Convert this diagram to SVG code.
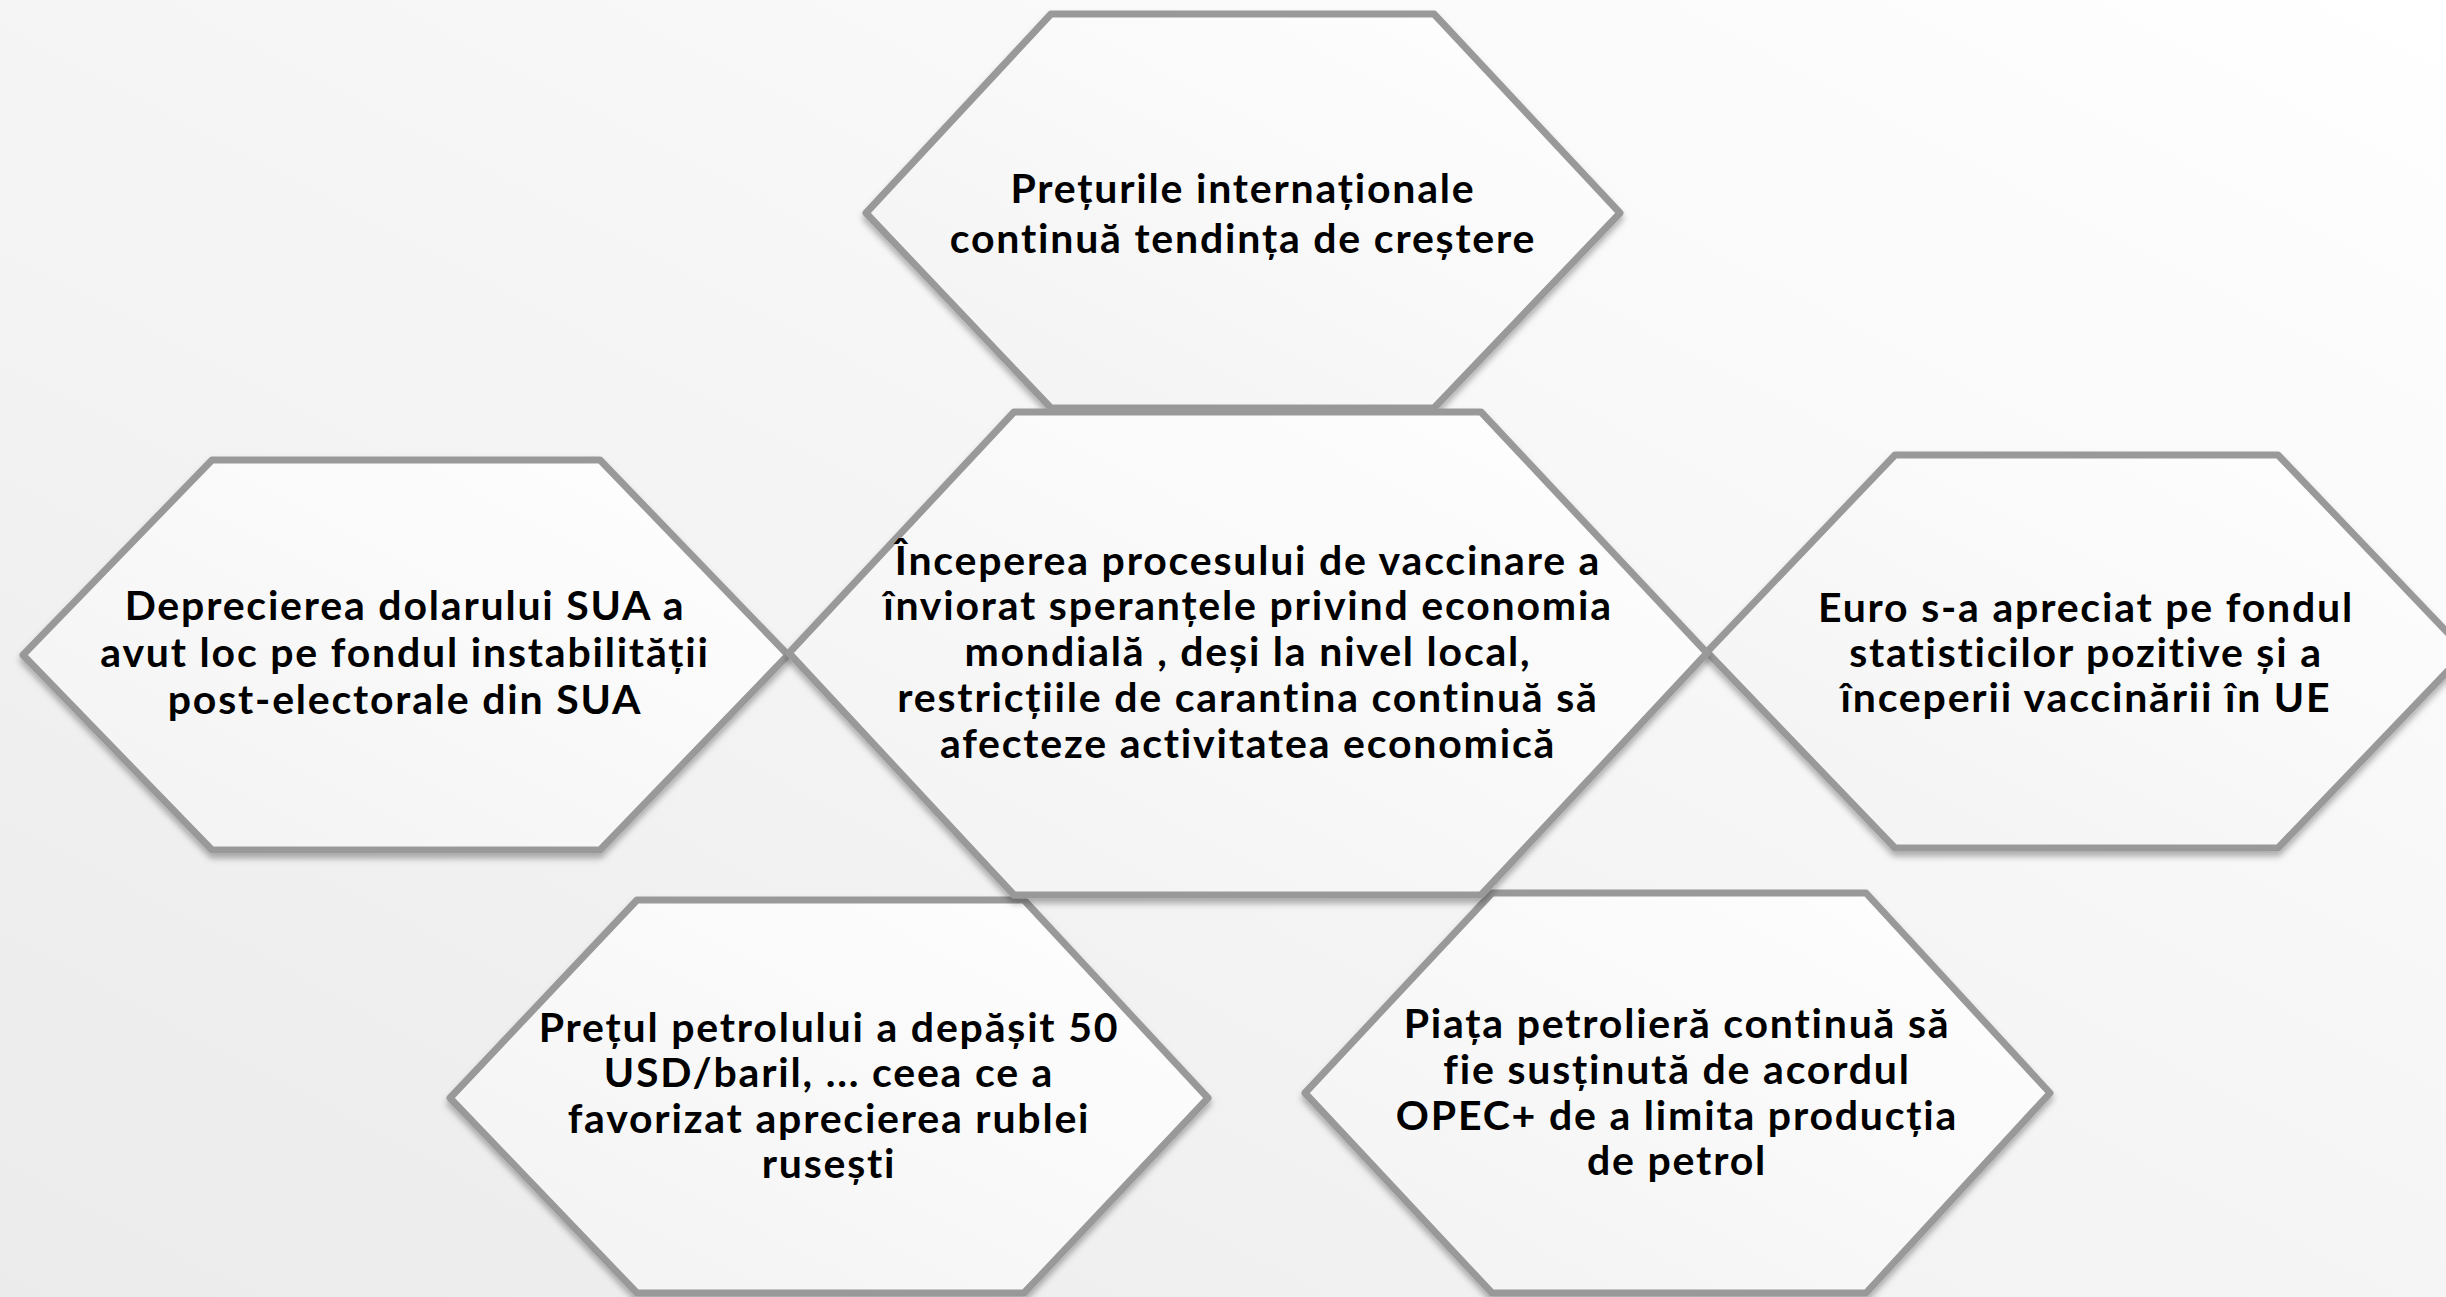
<svg xmlns="http://www.w3.org/2000/svg" width="2446" height="1297" viewBox="0 0 2446 1297">
<defs>
<linearGradient id="bg" x1="1" y1="0" x2="0" y2="1">
<stop offset="0" stop-color="#ffffff"/>
<stop offset="1" stop-color="#ebebeb"/>
</linearGradient>
<linearGradient id="hexfill" x1="1" y1="0" x2="0" y2="1">
<stop offset="0" stop-color="#ffffff"/>
<stop offset="1" stop-color="#f2f2f2"/>
</linearGradient>
<filter id="sh" x="-10%" y="-10%" width="120%" height="125%">
<feDropShadow dx="0" dy="5" stdDeviation="3" flood-color="#000" flood-opacity="0.3"/>
</filter>
<style>
.hex{fill:url(#hexfill);stroke:#999999;stroke-width:7;stroke-linejoin:round;filter:url(#sh)}
.t{font-family:"Lato","Noto Sans","Liberation Sans",sans-serif;font-weight:700;font-size:41px;letter-spacing:1.8px;fill:#000;text-anchor:middle;font-variant-ligatures:none}
</style>
</defs>
<rect x="0" y="0" width="2446" height="1297" fill="url(#bg)"/>
<g id="connectors"/>
<g id="node-top">
<polygon class="hex" points="866,213 1051,14 1434,14 1620,213 1434,408 1051,408"/>
<text class="t"><tspan x="1243" y="203">Prețurile internaționale</tspan><tspan x="1243" y="253">continuă tendința de creștere</tspan></text>
</g>
<g id="node-left">
<polygon class="hex" points="23,655 212,460 600,460 788,655 600,850 212,850"/>
<text class="t"><tspan x="405" y="620">Deprecierea dolarului SUA a</tspan><tspan x="405" y="667">avut loc pe fondul instabilității</tspan><tspan x="405" y="714">post-electorale din SUA</tspan></text>
</g>
<g id="node-right">
<polygon class="hex" points="1707,652 1895,455 2278,455 2466,652 2278,848 1895,848"/>
<text class="t"><tspan x="2086" y="622">Euro s-a apreciat pe fondul</tspan><tspan x="2086" y="667">statisticilor pozitive și a</tspan><tspan x="2086" y="712">începerii vaccinării în UE</tspan></text>
</g>
<g id="node-bottom-left">
<polygon class="hex" points="450,1098 637,900 1024,900 1208,1098 1024,1293 637,1293"/>
<text class="t"><tspan x="829" y="1042">Prețul petrolului a depășit 50</tspan><tspan x="829" y="1087">USD/baril, ... ceea ce a</tspan><tspan x="829" y="1133">favorizat aprecierea rublei</tspan><tspan x="829" y="1178">rusești</tspan></text>
</g>
<g id="node-bottom-right">
<polygon class="hex" points="1305,1093 1492,893 1866,893 2050,1093 1866,1293 1492,1293"/>
<text class="t"><tspan x="1677" y="1038">Piața petrolieră continuă să</tspan><tspan x="1677" y="1084">fie susținută de acordul</tspan><tspan x="1677" y="1130">OPEC+ de a limita producția</tspan><tspan x="1677" y="1175">de petrol</tspan></text>
</g>
<g id="node-center">
<polygon class="hex" points="789,653 1014,412 1481,412 1707,653 1481,895 1014,895"/>
<text class="t"><tspan x="1248" y="575">Începerea procesului de vaccinare a</tspan><tspan x="1248" y="620">înviorat speranțele privind economia</tspan><tspan x="1248" y="666">mondială , deși la nivel local,</tspan><tspan x="1248" y="712">restricțiile de carantina continuă să</tspan><tspan x="1248" y="758">afecteze activitatea economică</tspan></text>
</g>
</svg>
